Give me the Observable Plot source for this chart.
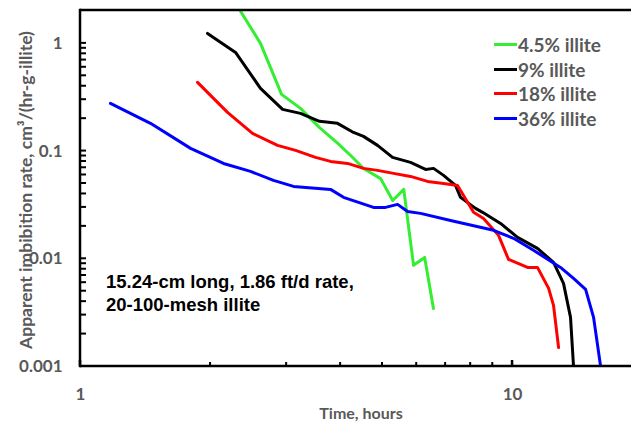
<!DOCTYPE html>
<html><head><meta charset="utf-8">
<script src="https://cdn.jsdelivr.net/npm/d3@7"></script>
<script src="https://cdn.jsdelivr.net/npm/@observablehq/plot@0.6"></script>
<style>
body{margin:0;background:#fff;}
#chart{position:relative;width:631px;height:427px;overflow:hidden;}
#legend{position:absolute;left:494px;top:32px;font-family:Lato,sans-serif;font-weight:bold;font-size:19px;color:#595959;}
#legend .row{display:flex;align-items:center;height:24.7px;}
#legend .sw{width:23px;height:3px;margin-right:1px;}
.lbl{position:absolute;white-space:nowrap;font-family:Lato,sans-serif;font-weight:bold;color:#595959;}
#ytitle{left:24.5px;top:190px;font-size:17.5px;transform:translate(-50%,-50%) rotate(-90deg);}
#xtitle{left:361px;top:412px;font-size:16px;transform:translate(-50%,-50%);}
#note{position:absolute;left:106px;top:270px;font-family:"Liberation Sans",Arial,sans-serif;font-weight:bold;font-size:18.5px;line-height:23px;color:#000;white-space:pre;}
</style></head><body><div id="chart"></div>
<script>
const seriesNames = ["4.5% illite", "9% illite", "18% illite", "36% illite"];
const seriesColors = ["#33ee33", "#000000", "#ff0000", "#0000ff"];

const time45 = [2.17, 2.61, 2.92, 3.23, 3.57, 3.94, 4.22, 4.52, 4.95, 5.28, 5.6, 5.9, 6.26, 6.56];
const rate45 = [3.3, 1.0, 0.336, 0.249, 0.166, 0.118, 0.091, 0.069, 0.0555, 0.0348, 0.0441, 0.0087, 0.0103, 0.00346];

const time9 = [1.968, 2.285, 2.61, 2.936, 3.229, 3.574, 3.935, 4.285, 4.519, 4.87, 5.276, 5.806, 6.29, 6.564, 6.923, 7.379, 7.579, 8.211, 8.523, 9.381, 10.27, 11.42, 12.44, 13.12, 13.62, 13.84];
const rate9 = [1.238, 0.825, 0.382, 0.244, 0.224, 0.189, 0.181, 0.149, 0.137, 0.113, 0.0874, 0.0785, 0.0676, 0.0691, 0.0595, 0.048, 0.0372, 0.0294, 0.027, 0.0213, 0.0158, 0.0125, 0.00926, 0.00591, 0.00286, 0.001];

const time18 = [1.866, 2.189, 2.501, 2.858, 3.147, 3.499, 3.791, 4.15, 4.519, 4.87, 5.304, 5.806, 6.357, 6.923, 7.459, 8.124, 8.568, 9.281, 9.788, 10.83, 11.42, 12.12, 12.44, 12.78];
const rate18 = [0.434, 0.229, 0.146, 0.113, 0.1015, 0.0874, 0.0802, 0.0768, 0.0691, 0.0662, 0.0621, 0.0582, 0.0523, 0.0501, 0.048, 0.027, 0.0237, 0.0165, 0.00987, 0.00832, 0.00832, 0.00531, 0.00369, 0.0015];

const time36 = [1.173, 1.452, 1.798, 2.143, 2.475, 2.797, 3.112, 3.791, 4.062, 4.401, 4.766, 5.082, 5.418, 5.714, 6.124, 7.187, 9.036, 10.05, 11.18, 12.91, 13.84, 14.76, 15.4, 15.99];
const rate36 = [0.277, 0.181, 0.106, 0.0768, 0.0648, 0.0534, 0.047, 0.0441, 0.0372, 0.0334, 0.030, 0.030, 0.032, 0.0275, 0.0264, 0.0227, 0.0184, 0.0155, 0.012, 0.00832, 0.00658, 0.0052, 0.00286, 0.001];

const xMajorTicks = [1, 10];
const xMinorTicks = [2, 3, 4, 5, 6, 7, 8, 9];
const yMajorTicks = [0.001, 0.01, 0.1, 1];
const yMinorTicks = [0.002,0.003,0.004,0.005,0.006,0.007,0.008,0.009,0.02,0.03,0.04,0.05,0.06,0.07,0.08,0.09,0.2,0.3,0.4,0.5,0.6,0.7,0.8,0.9];
const xDomain = [1, 18.85];
const yDomain = [0.001, 2.02];

const yTitle = "Apparent imbibition rate, cm³/(hr-g-illite)";
const xTitle = "Time, hours";
const note = "15.24-cm long, 1.86 ft/d rate,\n20-100-mesh illite";

const times = [time45, time9, time18, time36];
const rates = [rate45, rate9, rate18, rate36];
const rows = [];
seriesNames.forEach((s, k) => times[k].forEach((t, i) => rows.push({series: s, time: t, rate: rates[k][i]})));

// Inward tick marks and axis frame, drawn with the plot's own x and y scales
function innerTicks(index, scales, values, dims) {
  const g = d3.create("svg:g").attr("stroke", "black").attr("fill", "none");
  const x0 = dims.marginLeft;
  const y0 = dims.height - dims.marginBottom;
  const yTop = scales.y(yDomain[1]);
  yMinorTicks.concat(yMajorTicks).forEach(v => {
    const y = scales.y(v);
    g.append("line").attr("x1", x0).attr("x2", x0 + 6).attr("y1", y).attr("y2", y).attr("stroke-width", 2);
  });
  xMinorTicks.forEach(v => {
    const x = scales.x(v);
    g.append("line").attr("x1", x).attr("x2", x).attr("y1", y0).attr("y2", y0 - 4).attr("stroke-width", 2);
  });
  xMajorTicks.forEach(v => {
    const x = scales.x(v);
    g.append("line").attr("x1", x).attr("x2", x).attr("y1", y0).attr("y2", y0 - 6).attr("stroke-width", 2.5);
  });
  g.append("line").attr("x1", x0).attr("x2", dims.width).attr("y1", y0).attr("y2", y0).attr("stroke-width", 2.5);
  g.append("line").attr("x1", x0).attr("x2", dims.width).attr("y1", yTop).attr("y2", yTop).attr("stroke-width", 2.5);
  g.append("line").attr("x1", x0).attr("x2", x0).attr("y1", yTop - 1.25).attr("y2", y0 + 1.25).attr("stroke-width", 2.5);
  return g.node();
}

const gray = "#595959";
const plot = Plot.plot({
  width: 631, height: 427,
  marginLeft: 80, marginTop: 10, marginRight: 0, marginBottom: 61,
  x: {type: "log", domain: xDomain},
  y: {type: "log", domain: yDomain},
  color: {domain: seriesNames, range: seriesColors},
  style: {fontFamily: "Lato, sans-serif", fontWeight: "bold", fontSize: "17px", background: "white"},
  marks: [
    Plot.axisY({ticks: yMajorTicks, tickSize: 0, tickPadding: 18, tickFormat: d => String(d), fill: gray, label: null}),
    Plot.axisX({ticks: xMajorTicks, tickSize: 0, tickPadding: 21, tickFormat: d => String(d), fill: gray, label: null}),
    Plot.line(rows, {x: "time", y: "rate", z: "series", stroke: "series", strokeWidth: 3, clip: true}),
    innerTicks
  ]
});
const chart = document.getElementById("chart");
chart.appendChild(plot);

function addDiv(id, cls, text) {
  const d = document.createElement("div");
  d.id = id;
  if (cls) d.className = cls;
  d.textContent = text;
  chart.appendChild(d);
}
addDiv("ytitle", "lbl", yTitle);
addDiv("xtitle", "lbl", xTitle);
addDiv("note", "", note);

const legend = document.createElement("div");
legend.id = "legend";
seriesNames.forEach((s, k) => {
  const r = document.createElement("div");
  r.className = "row";
  r.innerHTML = `<span class="sw" style="background:${seriesColors[k]}"></span><span>${s}</span>`;
  legend.appendChild(r);
});
chart.appendChild(legend);
</script>
</body></html>
